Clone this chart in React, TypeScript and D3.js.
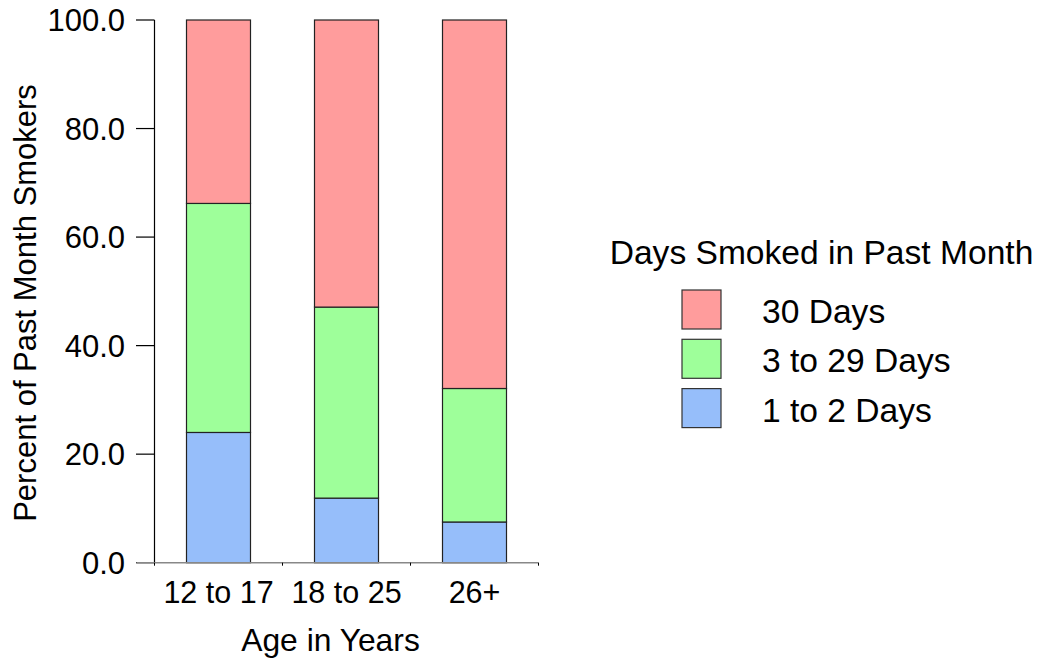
import React from "react";
import * as d3 from "d3";

const categories = ["12 to 17", "18 to 25", "26+"];
const oneToTwo = [24.0, 11.9, 7.5];
const threeTo29 = [42.2, 35.2, 24.6];
const thirty = [33.8, 52.9, 67.9];
const seriesNames = ["1 to 2 Days", "3 to 29 Days", "30 Days"];
const seriesColors = ["#96BEFA", "#9EFF9A", "#FF9C9C"];
const yTicks = [0, 20, 40, 60, 80, 100];

export default function App() {
  const W = 1039, H = 658;
  const x0 = 154.5, x1 = 538.5, yTop = 20, yBot = 562.7;
  const x = d3.scaleBand<string>().domain(categories).range([x0, x1]).paddingInner(0.5).paddingOuter(0.25);
  const y = d3.scaleLinear().domain([0, 100]).range([yBot, yTop]);
  const rows = categories.map((c, i) => ({ cat: c, s0: oneToTwo[i], s1: threeTo29[i], s2: thirty[i] }));
  const stack = d3.stack<any>().keys(["s0", "s1", "s2"])(rows);
  const font = "'Liberation Sans', Arial, sans-serif";
  const legendOrder = [2, 1, 0];
  const bandStep = (x1 - x0) / categories.length;
  return (
    <svg width={W} height={H} style={{ position: "absolute", left: 0, top: 0 }} fontFamily={font}>
      {stack.map((layer, si) =>
        layer.map((d, i) => (
          <rect key={`${si}-${i}`} x={x(categories[i])!} width={x.bandwidth()}
            y={y(d[1])} height={y(d[0]) - y(d[1])}
            fill={seriesColors[si]} stroke="#222" strokeWidth={1.2} />
        ))
      )}
      <line x1={x0} x2={x0} y1={yTop} y2={yBot} stroke="#000" strokeWidth={1.2} />
      {yTicks.map((t) => (
        <g key={t}>
          <line x1={136} x2={x0} y1={y(t)} y2={y(t)} stroke="#000" strokeWidth={1.2} />
          <text x={125} y={y(t)} dy="0.36em" textAnchor="end" fontSize={31} fill="#000">{t.toFixed(1)}</text>
        </g>
      ))}
      <line x1={x0 - 18} x2={x1} y1={yBot} y2={yBot} stroke="#888" strokeWidth={1.6} />
      {d3.range(categories.length + 1).map((k) => (
        <line key={k} x1={x0 + k * bandStep} x2={x0 + k * bandStep} y1={yBot} y2={yBot + 3} stroke="#000" strokeWidth={1} />
      ))}
      {categories.map((c) => (
        <text key={c} x={x(c)! + x.bandwidth() / 2} y={603} textAnchor="middle" fontSize={30.5} fill="#000">{c}</text>
      ))}
      <text x={330.5} y={651} textAnchor="middle" fontSize={31.8} fill="#000">Age in Years</text>
      <text transform={`translate(35.5,${303}) rotate(-90)`} textAnchor="middle" fontSize={31} fill="#000">Percent of Past Month Smokers</text>
      <text x={821.5} y={264} textAnchor="middle" fontSize={33.6} fill="#000">Days Smoked in Past Month</text>
      {legendOrder.map((si, k) => (
        <g key={si}>
          <rect x={682} y={290 + k * 49.3} width={39} height={39} fill={seriesColors[si]} stroke="#333" strokeWidth={1.2} />
          <text x={762} y={323 + k * 49.3} fontSize={33.6} fill="#000">{seriesNames[si]}</text>
        </g>
      ))}
    </svg>
  );
}
